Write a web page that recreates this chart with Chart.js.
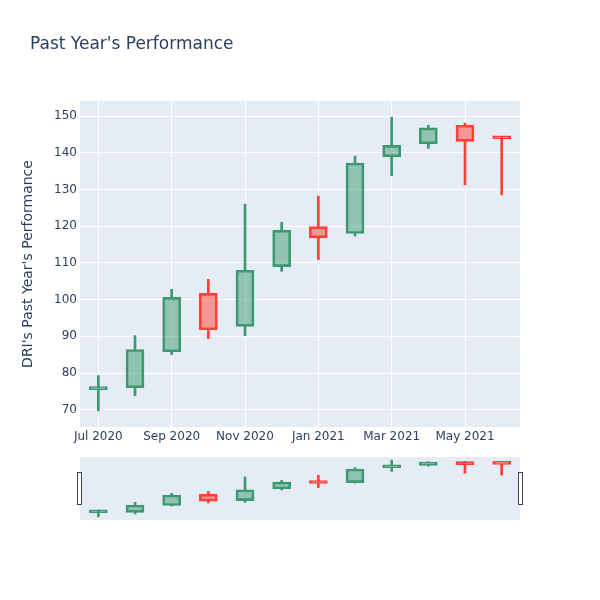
<!DOCTYPE html>
<html>
<head>
<meta charset="utf-8">
<script src="https://cdn.jsdelivr.net/npm/chart.js@4.4.0/dist/chart.umd.min.js"></script>
<style>
  body { margin: 0; background: #fff; }
  #wrap { position: relative; width: 600px; height: 600px; }
  #title { position: absolute; left: 30px; top: 33px; font: 17px "DejaVu Sans", sans-serif; color: #2a3f5f; }
  #chart { position: absolute; left: 0; top: 0; }
  #slider { position: absolute; left: 0; top: 450px; }
</style>
</head>
<body>
<div id="wrap">
  <canvas id="chart" width="600" height="450"></canvas>
  <canvas id="slider" width="600" height="80"></canvas>
  <div id="title">Past Year's Performance</div>
</div>
<script>
const months = ['Jul 2020', 'Aug 2020', 'Sep 2020', 'Oct 2020', 'Nov 2020', 'Dec 2020',
                'Jan 2021', 'Feb 2021', 'Mar 2021', 'Apr 2021', 'May 2021', 'Jun 2021'];
const open  = [75.5, 76.0, 85.8, 101.7, 92.7, 109.0, 119.9, 118.0, 138.9, 142.4, 147.5, 144.0];
const high  = [79.3, 90.2, 102.8, 105.5, 126.0, 121.1, 128.2, 139.1, 149.7, 147.5, 148.1, 144.1];
const low   = [69.7, 73.8, 85.0, 89.4, 90.2, 107.7, 110.9, 117.3, 133.8, 141.2, 131.3, 128.5];
const close = [75.9, 86.4, 100.6, 91.8, 108.0, 118.9, 116.8, 137.2, 142.0, 146.8, 143.1, 143.8];
const yTicks = [70, 80, 90, 100, 110, 120, 130, 140, 150];
const yMin = 65.3, yMax = 154.1;

const UP = '#3D9970', UP_FILL = 'rgba(61,153,112,0.5)';
const DOWN = '#FF4136', DOWN_FILL = 'rgba(255,65,54,0.5)';
const lineCol = (c) => close[c.dataIndex] >= open[c.dataIndex] ? UP : DOWN;
const fillCol = (c) => close[c.dataIndex] >= open[c.dataIndex] ? UP_FILL : DOWN_FILL;

const bodies = open.map((o, i) => [o, close[i]]);
const upperWicks = open.map((o, i) => [Math.max(o, close[i]), high[i]]);
const lowerWicks = open.map((o, i) => [low[i], Math.min(o, close[i])]);

const plotBg = {
    id: 'plotBg',
    beforeDraw(chart) {
        const a = chart.chartArea, ctx = chart.ctx;
        ctx.save();
        ctx.fillStyle = '#E5ECF6';
        ctx.fillRect(a.left, a.top, a.right - a.left, a.bottom - a.top);
        ctx.restore();
    }
};

function candleSets(wickW, bodyW) {
    const wick = (data) => ({
        data: data, grouped: false, barThickness: wickW,
        backgroundColor: lineCol, borderWidth: 0, order: 2
    });
    return [
        wick(upperWicks),
        wick(lowerWicks),
        {
            data: bodies, grouped: false, barThickness: bodyW,
            backgroundColor: fillCol, borderColor: lineCol,
            borderWidth: 2, borderSkipped: false, minBarLength: 3, order: 1
        }
    ];
}

const font = { family: '"DejaVu Sans", sans-serif', size: 12 };

new Chart(document.getElementById('chart'), {
    type: 'bar',
    data: { labels: months, datasets: candleSets(2, 18) },
    options: {
        responsive: false,
        animation: false,
        layout: { padding: { left: 16, right: 80, top: 101, bottom: 0 } },
        plugins: { legend: { display: false }, tooltip: { enabled: false } },
        scales: {
            x: {
                offset: true,
                grid: {
                    offset: false, drawTicks: false, lineWidth: 1,
                    color: (c) => c.index % 2 === 0 ? '#ffffff' : 'rgba(0,0,0,0)'
                },
                border: { display: false },
                ticks: {
                    autoSkip: false, maxRotation: 0, padding: 3,
                    color: '#2a3f5f', font: font,
                    callback: (v, i) => i % 2 === 0 ? months[i] : ''
                },
                afterFit: (s) => { s.height = 23; }
            },
            y: {
                min: yMin, max: yMax,
                grid: { color: '#ffffff', drawTicks: false },
                border: { display: false },
                ticks: { color: '#2a3f5f', font: font, padding: 3 },
                afterBuildTicks: (s) => { s.ticks = yTicks.map(v => ({ value: v })); },
                afterFit: (s) => { s.width = 64; },
                title: {
                    display: true, text: "DRI's Past Year's Performance",
                    color: '#2a3f5f', font: { family: '"DejaVu Sans", sans-serif', size: 14 }
                }
            }
        }
    },
    plugins: [plotBg]
});

const handles = {
    id: 'handles',
    afterDraw(chart) {
        const a = chart.chartArea, ctx = chart.ctx;
        const mid = (a.top + a.bottom) / 2;
        ctx.save();
        ctx.fillStyle = '#ffffff';
        ctx.strokeStyle = '#444444';
        ctx.lineWidth = 1;
        [a.left - 2.5, a.right - 1.5].forEach(x => {
            ctx.fillRect(x, mid - 16, 4, 32);
            ctx.strokeRect(x, mid - 16, 4, 32);
        });
        ctx.restore();
    }
};

new Chart(document.getElementById('slider'), {
    type: 'bar',
    data: { labels: months, datasets: candleSets(2, 18) },
    options: {
        responsive: false,
        animation: false,
        layout: { padding: { left: 80, right: 80, top: 7, bottom: 10 } },
        plugins: { legend: { display: false }, tooltip: { enabled: false } },
        scales: {
            x: { display: false, offset: true },
            y: { display: false, min: yMin, max: yMax }
        }
    },
    plugins: [plotBg, handles]
});
</script>
</body>
</html>
